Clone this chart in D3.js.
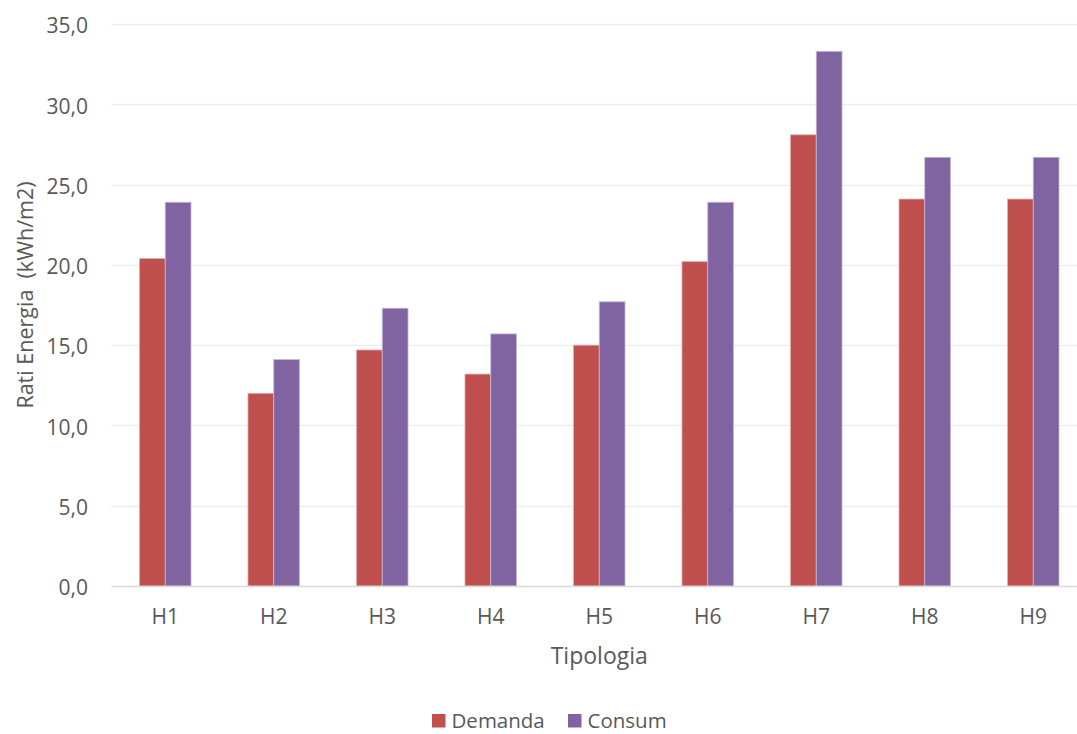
<!DOCTYPE html>
<html>
<head>
<meta charset="utf-8">
<script src="https://cdn.jsdelivr.net/npm/d3@7"></script>
<style>
  html, body { margin: 0; padding: 0; background: #ffffff; overflow: hidden; }
  svg { display: block; font-family: "Open Sans", "Liberation Sans", sans-serif; }
</style>
</head>
<body>
<svg id="chart" width="1077" height="734"></svg>
<script>
// Energy ratio per building typology
const categories = ["H1", "H2", "H3", "H4", "H5", "H6", "H7", "H8", "H9"];
const seriesNames = ["Demanda", "Consum"];
const demanda = [20.4, 12.0, 14.7, 13.2, 15.0, 20.2, 28.1, 24.1, 24.1];
const consum  = [23.9, 14.1, 17.3, 15.7, 17.7, 23.9, 33.3, 26.7, 26.7];
const yTicks = [0, 5, 10, 15, 20, 25, 30, 35];
const colors = ["#C0504D", "#8064A2"];

const svg = d3.select("#chart");
const W = 1077, H = 734;
// the plot area runs slightly past the right edge of the canvas
const margin = { left: 111, right: -10.5, top: 24, bottom: 148 };
const plotW = W - margin.left - margin.right;
const plotH = H - margin.top - margin.bottom;

const g = svg.append("g").attr("transform", `translate(${margin.left},${margin.top})`);

const x = d3.scaleBand().domain(categories).range([0, plotW]).paddingInner(0.525).paddingOuter(0.2625);
const xs = d3.scaleBand().domain(seriesNames).range([0, x.bandwidth()]);
const y = d3.scaleLinear().domain([0, 35]).range([plotH, 0]);

const fmt = v => d3.format(".1f")(v).replace(".", ",");
const textColor = "#595959";

// gridlines
g.append("g")
  .selectAll("line")
  .data(yTicks.filter(t => t > 0))
  .join("line")
  .attr("x1", 0).attr("x2", plotW)
  .attr("y1", d => Math.round(y(d)) + 0.5).attr("y2", d => Math.round(y(d)) + 0.5)
  .attr("stroke", "#EDEDED").attr("stroke-width", 1.3);

// y axis labels
const yAxis = g.append("g")
  .call(d3.axisLeft(y).tickValues(yTicks).tickFormat(fmt).tickSize(0).tickPadding(23));
yAxis.select(".domain").remove();
yAxis.selectAll("text")
  .attr("fill", textColor).attr("font-size", 21).attr("dy", "0.42em")
  .attr("font-family", "\"Open Sans\", sans-serif");

// bars
const data = categories.map((c, i) => ({ cat: c, vals: [demanda[i], consum[i]] }));
const groups = g.append("g").selectAll("g")
  .data(data).join("g")
  .attr("transform", d => `translate(${x(d.cat)},0)`);
groups.selectAll("rect")
  .data(d => d.vals.map((v, k) => ({ v, k })))
  .join("rect")
  .attr("x", d => xs(seriesNames[d.k]))
  .attr("width", xs.bandwidth())
  .attr("y", d => y(d.v))
  .attr("height", d => plotH - y(d.v))
  .attr("fill", d => colors[d.k])
  .attr("stroke", d => d.k === 0 ? "#E3B1B0" : "#C5B7D8")
  .attr("stroke-width", 0.8);

// x axis
const xAxis = g.append("g")
  .attr("transform", `translate(0,${plotH})`)
  .call(d3.axisBottom(x).tickSize(0).tickPadding(23));
xAxis.select(".domain").attr("stroke", "#D9D9D9").attr("stroke-width", 1.5);
xAxis.selectAll("text")
  .attr("fill", textColor).attr("font-size", 21)
  .attr("font-family", "\"Open Sans\", sans-serif");

// axis titles
svg.append("text")
  .attr("x", margin.left + plotW / 2).attr("y", 664)
  .attr("text-anchor", "middle")
  .attr("fill", textColor).attr("font-size", 23)
  .text("Tipologia");

svg.append("text")
  .attr("transform", "translate(33,295) rotate(-90)")
  .attr("text-anchor", "middle")
  .attr("fill", textColor).attr("font-size", 21.5)
  .attr("xml:space", "preserve")
  .style("white-space", "pre")
  .text("Rati Energia  (kWh/m2)");

// legend
const legend = svg.append("g").attr("transform", "translate(432,714)");
const legendX = [0, 136];
seriesNames.forEach((name, i) => {
  const lg = legend.append("g").attr("transform", `translate(${legendX[i]},0)`);
  lg.append("rect").attr("x", 0).attr("y", 0).attr("width", 13.5).attr("height", 13.5).attr("fill", colors[i]);
  lg.append("text").attr("x", 19.5).attr("y", 14)
    .attr("fill", textColor).attr("font-size", 20.5)
    .text(name);
});
</script>
</body>
</html>
